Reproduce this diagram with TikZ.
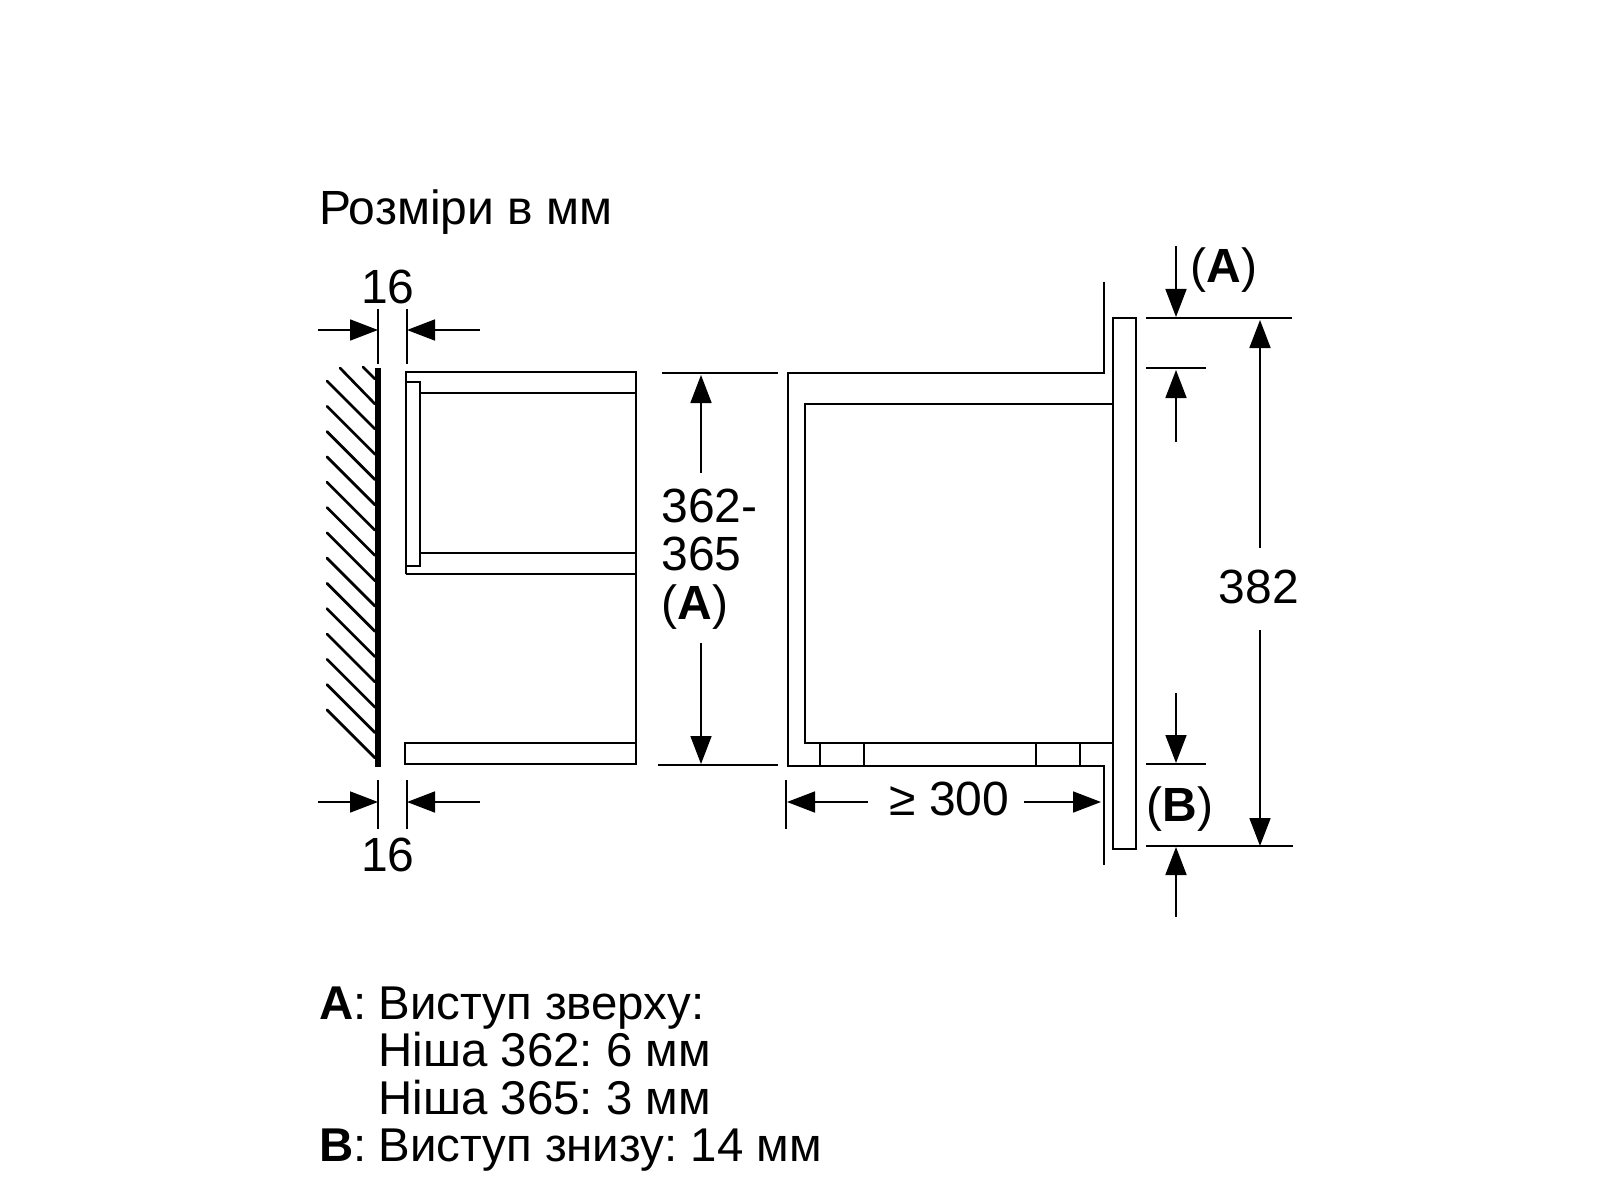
\documentclass[tikz,border=0pt]{standalone}
\usepackage{fontspec}
\setmainfont{Liberation Sans}
\usetikzlibrary{arrows.meta}
\frenchspacing
\tikzset{
  body/.style={line width=2.9pt,line join=miter,line cap=butt},
  hatchline/.style={line width=2.7pt,line cap=round},
  wall/.style={line width=6.5pt},
  thin dim/.style={line width=1.7pt},
  dimarrow/.style={line width=1.7pt,-{Triangle[length=28pt,width=21pt]}},
  label/.style={inner sep=0pt,outer sep=0pt,anchor=base west,font=\fontsize{48}{48}\selectfont},
  labelc/.style={inner sep=0pt,outer sep=0pt,anchor=base,font=\fontsize{48}{48}\selectfont},
  notelabel/.style={inner sep=0pt,outer sep=0pt,anchor=base west,font=\fontsize{47.4}{47.4}\selectfont}
}
\begin{document}
\begin{tikzpicture}[x=1pt,y=-1pt]
\useasboundingbox (0,0) rectangle (1606,1198);
\fill[white] (0,0) rectangle (1606,1198);
% wall
\draw[wall] (378,368) -- (378,767);
\foreach \k in {0,...,13}{
  \draw[hatchline] (327,381+25.3*\k) -- (375,429+25.3*\k);
}
\draw[hatchline] (340,368) -- (375,404);
\draw[hatchline] (363,367) -- (375,379);
% niche
\draw[body] (406,574) -- (406,372) -- (636,372) -- (636,765);
\draw[body] (420,393) -- (636,393);
\draw[body] (420,553) -- (636,553);
\draw[body] (406,574) -- (636,574);
\draw[body] (406,382) rectangle (420,566);
\draw[body] (405,743) rectangle (636,764);
% appliance section
\draw[body] (1104,282) -- (1104,373) -- (788,373) -- (788,766) -- (1104,766) -- (1104,865);
\draw[body] (1113,404) -- (805,404) -- (805,743) -- (1113,743);
\draw[body] (820,743) -- (820,766) (864,743) -- (864,766) (1036,743) -- (1036,766) (1080,743) -- (1080,766);
\draw[body] (1113,318) rectangle (1136,849);
% 16 top
\draw[thin dim] (378,309) -- (378,364) (407,309) -- (407,364);
\draw[dimarrow] (318,330) -- (378,330);
\draw[dimarrow] (480,330) -- (407,330);
\node[labelc] (t16a) at (388,303) {16};
% 16 bottom
\draw[thin dim] (378,780) -- (378,829) (407,780) -- (407,829);
\draw[dimarrow] (318,802) -- (378,802);
\draw[dimarrow] (480,802) -- (407,802);
\node[labelc] (t16b) at (388,871) {16};
% 362-365
\draw[thin dim] (662,373) -- (778,373) (658,765) -- (778,765);
\draw[dimarrow] (701,473) -- (701,375);
\draw[dimarrow] (701,643) -- (701,764);
\node[label] (t362) at (661.5,522) {362-};
\node[label] (t365) at (661.5,570) {365};
\node[label] (tA1) at (661.5,619) {(\textbf{A})};
% >=300
\draw[thin dim] (786,780) -- (786,829);
\draw[dimarrow] (868,802) -- (787,802);
\draw[dimarrow] (1024,802) -- (1101,802);
\node[labelc] (t300) at (949.5,815) {≥ 300};
% right dims
\draw[thin dim] (1146,318) -- (1292,318) (1146,368) -- (1206,368) (1146,764) -- (1206,764) (1146,846) -- (1293,846);
\draw[dimarrow] (1176,246) -- (1176,317);
\draw[dimarrow] (1176,442) -- (1176,370);
\draw[dimarrow] (1176,693) -- (1176,763);
\draw[dimarrow] (1176,917) -- (1176,847);
\draw[dimarrow] (1260,548) -- (1260,320);
\draw[dimarrow] (1260,630) -- (1260,846);
\node[labelc] (t382) at (1259,603) {382};
\node[label] (tA2) at (1190.5,283) {(\textbf{A})};
\node[label] (tB2) at (1146.5,821) {(\textbf{B})};
% text
\node[label] (title) at (319,225) {Розміри в мм};
\node[notelabel] (nA) at (319,1019) {\textbf{A}:};
\node[notelabel] (n1) at (378.5,1019) {Виступ зверху:};
\node[notelabel] (n2) at (378.5,1066) {Ніша 362: 6 мм};
\node[notelabel] (n3) at (378.5,1114) {Ніша 365: 3 мм};
\node[notelabel] (nB) at (319,1161) {\textbf{B}:};
\node[notelabel] (n4) at (378.5,1161) {Виступ знизу: 14 мм};
\end{tikzpicture}
\end{document}
